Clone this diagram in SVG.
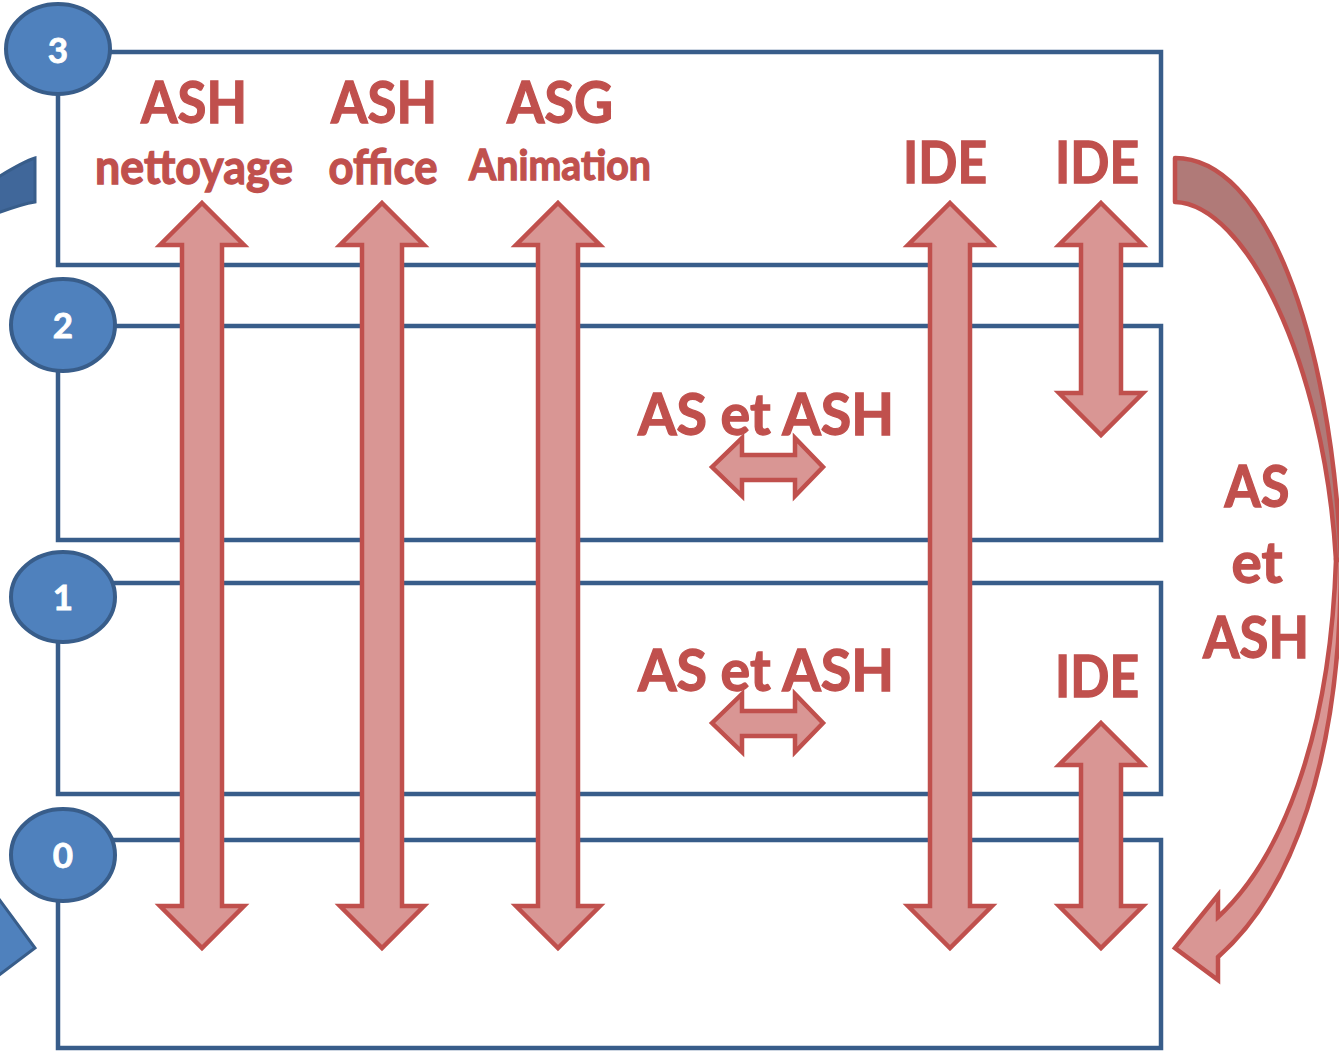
<svg xmlns="http://www.w3.org/2000/svg" width="1339" height="1052" viewBox="0 0 1339 1052">
<style>
.floor{fill:none;stroke:#385D8A;stroke-width:4.5;stroke-linejoin:miter}
.circ{fill:#4F81BD;stroke:#385D8A;stroke-width:4}
.num{font-family:Lato,"Open Sans",sans-serif;font-weight:bold;font-size:35px;fill:#FFFFFF;stroke:#FFFFFF;stroke-width:0.8;text-anchor:middle}
.arr{fill:#D99694;stroke:#C0504D;stroke-width:4.5;stroke-linejoin:miter}
.lbl{font-family:Lato,"Open Sans",sans-serif;font-weight:bold;fill:#C0504D;stroke:#C0504D;stroke-width:1.3;text-anchor:middle}
.big{font-size:57px}
.mid{font-size:48px}
.sm{font-size:42px}
</style>
<rect width="1339" height="1052" fill="#FFFFFF"/>
<g id="offscreen">
<path d="M-10,182 C10,170 22,162 35,158 L35,202 C22,204 8,209 -10,216 Z" fill="#40679A" stroke="#385D8A" stroke-width="3"/>
<path d="M-10,887 L35,948 L-10,982 Z" fill="#4F81BD" stroke="#385D8A" stroke-width="3"/>
</g>
<g id="floor3">
<rect class="floor" x="58" y="52" width="1103" height="213"/>
<ellipse class="circ" cx="58" cy="49" rx="52" ry="45"/>
<text class="num" x="58" y="63">3</text>
</g>
<g id="floor2">
<rect class="floor" x="58" y="326" width="1103" height="214"/>
<ellipse class="circ" cx="63" cy="325" rx="52" ry="46"/>
<text class="num" x="63" y="338">2</text>
</g>
<g id="floor1">
<rect class="floor" x="58" y="583" width="1103" height="211"/>
<ellipse class="circ" cx="63" cy="597" rx="52" ry="45"/>
<text class="num" x="63" y="610">1</text>
</g>
<g id="floor0">
<rect class="floor" x="58" y="840" width="1103" height="208"/>
<ellipse class="circ" cx="63" cy="855" rx="52" ry="46"/>
<text class="num" x="63" y="868">0</text>
</g>
<g id="connectors">
<path class="arr" d="M202,203 L244,245 L222,245 L222,906 L244,906 L202,948 L160,906 L182,906 L182,245 L160,245 Z"/>
<path class="arr" d="M382,203 L424,245 L402,245 L402,906 L424,906 L382,948 L340,906 L362,906 L362,245 L340,245 Z"/>
<path class="arr" d="M558,203 L600,245 L578,245 L578,906 L600,906 L558,948 L516,906 L538,906 L538,245 L516,245 Z"/>
<path class="arr" d="M950,203 L992,245 L970,245 L970,906 L992,906 L950,948 L908,906 L930,906 L930,245 L908,245 Z"/>
<path class="arr" d="M1101,203 L1143,245 L1121,245 L1121,393 L1143,393 L1101,435 L1059,393 L1081,393 L1081,245 L1059,245 Z"/>
<path class="arr" d="M1101,723 L1143,765 L1121,765 L1121,906 L1143,906 L1101,948 L1059,906 L1081,906 L1081,765 L1059,765 Z"/>
<path class="arr" d="M712,467 L742,438 L742,455 L795,455 L795,438 L823,467 L795,496 L795,480 L742,480 L742,496 Z"/>
<path class="arr" d="M712,723 L742,694 L742,711 L795,711 L795,694 L823,723 L795,752 L795,736 L742,736 L742,752 Z"/>
<path d="M1175,158 C1265,158 1330,330 1341,560 L1336,560 C1324,360 1245,204 1175,202 Z" fill="#B07A78" stroke="#C0504D" stroke-width="4.5" stroke-linejoin="round"/>
<path class="arr" d="M1341,560 C1341,760 1292,892 1218,957 L1218,980 L1175,948 L1218,895 L1218,917 C1280,860 1330,740 1336,560 Z"/>
</g>
<g id="labels">
<text class="lbl big" x="194" y="123" textLength="106" lengthAdjust="spacingAndGlyphs">ASH</text>
<text class="lbl mid" x="194" y="184" textLength="198" lengthAdjust="spacingAndGlyphs">nettoyage</text>
<text class="lbl big" x="384" y="123" textLength="106" lengthAdjust="spacingAndGlyphs">ASH</text>
<text class="lbl mid" x="383" y="184" textLength="109" lengthAdjust="spacingAndGlyphs">office</text>
<text class="lbl big" x="560" y="123" textLength="106" lengthAdjust="spacingAndGlyphs">ASG</text>
<text class="lbl sm" x="560" y="180" textLength="182" lengthAdjust="spacingAndGlyphs">Animation</text>
<text class="lbl big" x="945" y="183" textLength="84" lengthAdjust="spacingAndGlyphs">IDE</text>
<text class="lbl big" x="1097" y="183" textLength="84" lengthAdjust="spacingAndGlyphs">IDE</text>
<text class="lbl big" x="766" y="435" textLength="256" lengthAdjust="spacingAndGlyphs">AS et ASH</text>
<text class="lbl big" x="766" y="691" textLength="256" lengthAdjust="spacingAndGlyphs">AS et ASH</text>
<text class="lbl big" x="1097" y="697" textLength="84" lengthAdjust="spacingAndGlyphs">IDE</text>
<text class="lbl big" x="1257" y="507" textLength="65" lengthAdjust="spacingAndGlyphs">AS</text>
<text class="lbl big" x="1257" y="583" textLength="51" lengthAdjust="spacingAndGlyphs">et</text>
<text class="lbl big" x="1256" y="658" textLength="106" lengthAdjust="spacingAndGlyphs">ASH</text>
</g>
</svg>
